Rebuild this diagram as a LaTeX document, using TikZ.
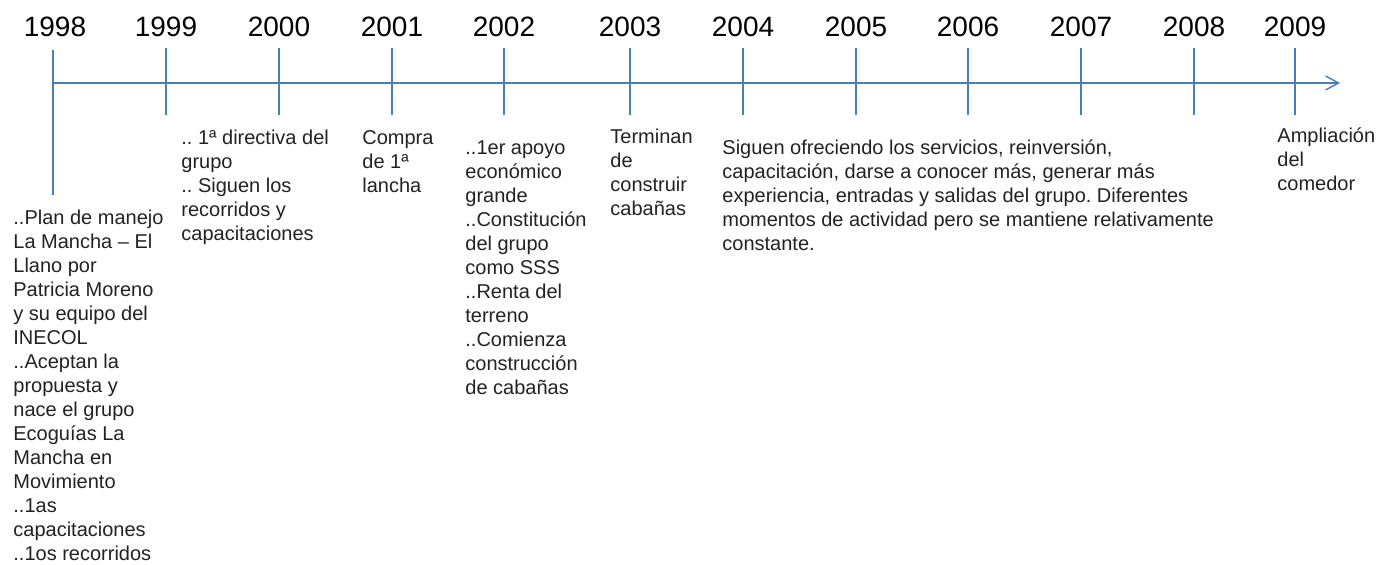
\documentclass[tikz,border=0pt]{standalone}
\usepackage{fontspec}
\setmainfont{Liberation Sans}
\usepackage{xcolor}
\usepackage{tikz}
\usetikzlibrary{arrows.meta}

\definecolor{lineblue}{HTML}{4A7EBB}
\definecolor{txtgray}{HTML}{222222}

\tikzset{
  axis/.style={draw=lineblue, line width=0.7pt},
  year/.style={anchor=base, inner sep=0, font=\fontsize{14}{16}\selectfont},
  event/.style={anchor=north west, inner sep=0, align=left, text=txtgray,
    font=\fontsize{10}{12}\selectfont\frenchspacing}
}

\begin{document}
\begin{tikzpicture}[x=0.5pt,y=-0.5pt]
		% picture frame
		\useasboundingbox (0,0) rectangle (1379,565);

		% main axis
		\coordinate (start) at (53,83);
		\coordinate (end) at (1340,83);
		\draw[axis, -{Straight Barb[length=6.5pt,width=7pt]}] (start) -- (end);

		% years with their ticks
		\foreach \yr/\x in {1999/166, 2000/279, 2001/392, 2002/504, 2003/630,
				2004/743, 2005/856, 2006/968, 2007/1081, 2008/1194, 2009/1295} {
				\node[year] (y\yr) at (\x,37) {\yr};
				\coordinate (t\yr) at (\x,48);
				\coordinate (b\yr) at (\x,115);
				\draw[axis] (t\yr) -- (b\yr);
			}
		% first year has a long tick
		\node[year] (y1998) at (55,37) {1998};
		\coordinate (t1998) at (53,50);
		\coordinate (b1998) at (53,195);
		\draw[axis] (t1998) -- (b1998);

		% events
		\node[event] (e1998) at (13,210) {..Plan de manejo\\La Mancha -- El\\Llano por\\Patricia Moreno\\y su equipo del\\INECOL\\..Aceptan la\\propuesta y\\nace el grupo\\Ecoguías La\\Mancha en\\Movimiento\\..1as\\capacitaciones\\..1os recorridos};
		\node[event] (e1999) at (181,130) {..\ 1ª directiva del\\grupo\\..\ Siguen los\\recorridos y\\capacitaciones};
		\node[event] (e2001) at (362,130) {Compra\\de 1ª\\lancha};
		\node[event] (e2002) at (465,140) {..1er apoyo\\económico\\grande\\..Constitución\\del grupo\\como SSS\\..Renta del\\terreno\\..Comienza\\construcción\\de cabañas};
		\node[event] (e2003) at (610,129) {Terminan\\de\\construir\\cabañas};
		\node[event] (e2004) at (722,139) {Siguen ofreciendo los servicios, reinversión,\\capacitación, darse a conocer más, generar más\\experiencia, entradas y salidas del grupo. Diferentes\\momentos de actividad pero se mantiene relativamente\\constante.};
		\node[event] (e2009) at (1277,127) {Ampliación\\del\\comedor};
	\end{tikzpicture}
\end{document}
